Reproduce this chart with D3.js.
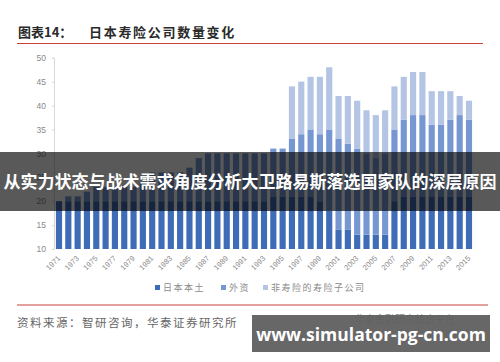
<!DOCTYPE html>
<html>
<head>
<meta charset="utf-8">
<script src="https://cdn.jsdelivr.net/npm/d3@7"></script>
<style>
  body { margin: 0; background: #fff; }
  svg { display: block; font-family: "Noto Sans CJK SC", "Noto Sans", sans-serif; }
</style>
</head>
<body>
<div id="chart"></div>
<script>
var width = 500
var height = 362

// data
var years = d3.range(1971, 2016)
var domestic = [20, 20, 20, 20, 20, 20, 20, 20, 20, 20, 20, 20, 20, 20, 20, 20, 20, 20, 20, 20, 20, 20, 20, 21, 21,
  21, 21, 21, 20, 18, 14, 14, 13, 13, 13, 13, 20, 21, 21, 21, 21, 21, 21, 21, 21]
var foreign = [0, 1, 1, 2, 3, 3, 3, 3, 3, 4, 6, 6, 6, 6, 7, 9, 10, 10, 10, 10, 10, 10, 10, 10, 10,
  12, 13, 14, 14, 17, 19, 18, 18, 17, 16, 17, 15, 16, 17, 17, 15, 15, 16, 17, 16]
var subsidiary = [0, 0, 0, 0, 0, 0, 0, 0, 0, 0, 0, 0, 0, 0, 0, 0, 0, 0, 0, 0, 0, 0, 0, 0, 0,
  11, 11, 11, 12, 13, 9, 10, 10, 9, 9, 9, 9, 9, 9, 9, 7, 7, 6, 4, 4]
var seriesNames = ["日本本土", "外资", "非寿险的寿险子公司"]
var yTicks = [10, 15, 20, 25, 30, 35, 40, 45, 50]

var colors = ["#3f6cb6", "#7797d3", "#b4c4e5"]
var marginLeft = 55
var marginRight = 27

var rows = years.map((y, i) => ({ year: y, a: domestic[i], b: foreign[i], c: subsidiary[i] }))
var stack = d3.stack().keys(["a", "b", "c"])(rows)

var svg = d3.select("#chart")
  .append("svg")
  .attr("width", width)
  .attr("height", height)

// Title
svg.append("text")
  .attr("x", 18)
  .attr("y", 37)
  .style("font-size", "13px")
  .style("font-weight", "bold")
  .style("fill", "#2a2a2a")
  .text("图表14：")

svg.append("text")
  .attr("x", 89)
  .attr("y", 37)
  .style("font-size", "13px")
  .style("font-weight", "bold")
  .style("fill", "#2a2a2a")
  .style("letter-spacing", "1.7px")
  .text("日本寿险公司数量变化")

svg.append("line")
  .attr("x1", 17).attr("x2", 483)
  .attr("y1", 43.5).attr("y2", 43.5)
  .style("stroke", "#c8403a")
  .style("stroke-width", 1.2)

// Scales
var xScale = d3.scaleBand()
  .domain(years)
  .range([marginLeft, width - marginRight])
  .paddingInner(0.34)
  .paddingOuter(0.1)

var yScale = d3.scaleLinear()
  .domain([10, 50])
  .range([249, 57.7])

// Render Y axis
var yAxis = d3.axisLeft(yScale)
  .tickValues(yTicks)
  .tickSize(2)
  .tickPadding(6)

svg.append("g")
  .attr("transform", `translate(${marginLeft - 1},0)`)
  .attr("class", "y-axis")
  .call(yAxis)
  .call(g => g.select(".domain").style("stroke", "#d9d9d9"))
  .call(g => g.selectAll(".tick line").style("stroke", "#d9d9d9"))
  .selectAll("text")
  .style("font-size", "8.5px")
  .style("fill", "#8a8a8a")
  .style("font-family", "Liberation Sans, Arial, sans-serif")

// Render bars (axis starts at 10, so clip the bottom segment there)
svg.append("g")
  .attr("class", "bars")
  .selectAll("g")
  .data(stack)
  .enter()
  .append("g")
  .style("fill", (d, i) => colors[i])
  .selectAll("rect")
  .data(d => d.filter(p => p[1] > p[0]))
  .enter()
  .append("rect")
  .attr("x", d => xScale(d.data.year))
  .attr("width", xScale.bandwidth())
  .attr("y", d => yScale(d[1]))
  .attr("height", d => yScale(Math.max(d[0], 10)) - yScale(d[1]))

// Render X axis
var xAxis = d3.axisBottom(xScale)
  .tickValues(years.filter((y, i) => i % 2 === 0))
  .tickSize(0)

svg.append("g")
  .attr("transform", `translate(0,249)`)
  .attr("class", "x-axis")
  .call(xAxis)
  .call(g => g.select(".domain").remove())
  .selectAll("text")
  .style("font-size", "7.5px")
  .style("fill", "#8a8a8a")
  .style("font-family", "Liberation Sans, Arial, sans-serif")
  .style("text-anchor", "end")
  .attr("x", 0)
  .attr("y", 0)
  .attr("dy", "0.35em")
  .attr("transform", "translate(0,8) rotate(-45)")

// Legend
var legendX = [155, 221, 263]
var legend = svg.append("g")
  .attr("class", "legend")
  .selectAll("g")
  .data(seriesNames)
  .enter()
  .append("g")
  .attr("transform", (d, i) => `translate(${legendX[i]},288)`)

legend.append("rect")
  .attr("x", 0).attr("y", -3)
  .attr("width", 5).attr("height", 5)
  .style("fill", (d, i) => colors[i])

legend.append("text")
  .attr("x", 8)
  .attr("y", 3)
  .style("font-size", "9px")
  .style("fill", "#8a8a8a")
  .style("letter-spacing", "1.5px")
  .text(d => d)

// Footer
svg.append("line")
  .attr("x1", 17).attr("x2", 488)
  .attr("y1", 305).attr("y2", 305)
  .style("stroke", "#c8403a")
  .style("stroke-width", 1)

svg.append("text")
  .attr("x", 17)
  .attr("y", 327)
  .style("font-size", "11.5px")
  .style("fill", "#666")
  .style("letter-spacing", "1.5px")
  .text("资料来源：智研咨询，华泰证券研究所")

svg.append("text")
  .attr("x", 355)
  .attr("y", 323)
  .style("font-size", "10px")
  .style("fill", "#888")
  .text("华泰金融研究综合平台")

// Overlay banner
svg.append("rect")
  .attr("x", 0).attr("y", 152)
  .attr("width", width).attr("height", 59)
  .style("fill", "#000")
  .style("opacity", 0.65)

svg.append("text")
  .attr("x", width / 2)
  .attr("y", 188)
  .attr("text-anchor", "middle")
  .style("font-size", "17px")
  .style("font-weight", "bold")
  .style("fill", "#fff")
  .text("从实力状态与战术需求角度分析大卫路易斯落选国家队的深层原因")

// Watermark box
svg.append("rect")
  .attr("x", 252).attr("y", 315)
  .attr("width", 238).attr("height", 37)
  .style("fill", "#5f5f5f")
  .style("opacity", 0.95)

svg.append("text")
  .attr("x", 371)
  .attr("y", 341)
  .attr("text-anchor", "middle")
  .style("font-size", "17.5px")
  .style("font-weight", "bold")
  .style("fill", "#fff")
  .style("font-family", "Open Sans, DejaVu Sans, sans-serif")
  .text("www.simulator-pg-cn.com")
</script>
</body>
</html>
